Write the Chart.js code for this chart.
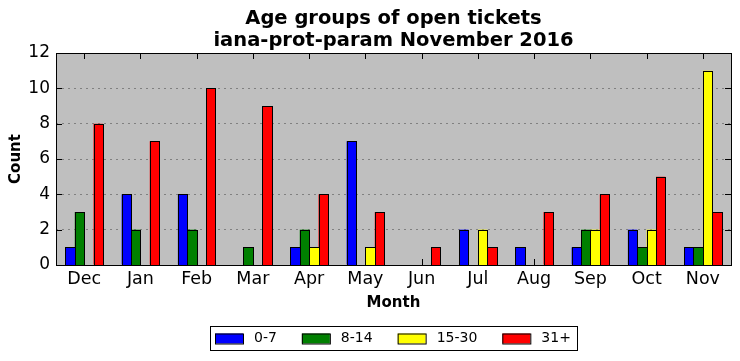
<!DOCTYPE html>
<html lang="en">
<head>
<meta charset="UTF-8">
<title>Age groups of open tickets</title>
<script src="https://cdn.jsdelivr.net/npm/chart.js"></script>
<style>
  body { margin: 0; background: #fff; }
  canvas { display: block; }
</style>
</head>
<body>
<canvas id="ageChart" width="740" height="361"></canvas>
<script>
const months = ['Dec', 'Jan', 'Feb', 'Mar', 'Apr', 'May', 'Jun', 'Jul', 'Aug', 'Sep', 'Oct', 'Nov'];
const seriesNames = ['0-7', '8-14', '15-30', '31+'];
const age0to7   = [1, 4, 4, 0, 1, 7, 0, 2, 1, 1, 2, 1];
const age8to14  = [3, 2, 2, 1, 2, 0, 0, 0, 0, 2, 1, 1];
const age15to30 = [0, 0, 0, 0, 1, 1, 0, 2, 0, 2, 2, 11];
const age31plus = [8, 7, 10, 9, 4, 3, 1, 1, 3, 4, 5, 3];
const yTicks = [0, 2, 4, 6, 8, 10, 12];
const titleLines = ['Age groups of open tickets', 'iana-prot-param November 2016'];

const colors = ['#0000ff', '#008000', '#ffff00', '#ff0000'];
const FONT = 'DejaVu Sans';

// grey plot background
const plotBackground = {
    id: 'plotBackground',
    beforeDraw(chart) {
        const { ctx, chartArea: a } = chart;
        ctx.save();
        ctx.fillStyle = '#bfbfbf';
        ctx.fillRect(a.left, a.top, a.right - a.left, a.bottom - a.top);
        ctx.restore();
    }
};

// crisp black outlines, snapped to the pixel grid like matplotlib does
const barOutlines = {
    id: 'barOutlines',
    afterDatasetsDraw(chart) {
        const { ctx } = chart;
        ctx.save();
        ctx.strokeStyle = '#000';
        ctx.lineWidth = 1;
        chart.data.datasets.forEach((d, di) => {
            chart.getDatasetMeta(di).data.forEach(bar => {
                const { x, y, base, width } = bar.getProps(['x', 'y', 'base', 'width'], true);
                const l = Math.round(x - width / 2), r = Math.round(x + width / 2);
                const t = Math.round(y), b = Math.round(base);
                ctx.fillStyle = d.backgroundColor;
                ctx.fillRect(l, t, r - l, b - t);
                ctx.strokeRect(l + 0.5, t + 0.5, r - l, b - t);
            });
        });
        ctx.restore();
    }
};

// title centred over the plot area (not the whole canvas)
const plotTitle = {
    id: 'plotTitle',
    afterDraw(chart) {
        const { ctx, chartArea: a } = chart;
        ctx.save();
        ctx.font = 'bold 19.5px "' + FONT + '"';
        ctx.fillStyle = '#000';
        ctx.textAlign = 'center';
        ctx.textBaseline = 'middle';
        const cx = (a.left + a.right) / 2;
        ctx.fillText(titleLines[0], cx, 19);
        ctx.fillText(titleLines[1], cx, 41);
        ctx.restore();
    }
};

// matplotlib style frame with inward ticks on all sides
const frameTicks = {
    id: 'frameTicks',
    afterDraw(chart) {
        const { ctx, chartArea: a } = chart;
        const xs = chart.scales.x, ys = chart.scales.y;
        const len = 6;
        ctx.save();
        ctx.strokeStyle = '#000';
        ctx.lineWidth = 1;
        ctx.beginPath();
        months.forEach((m, i) => {
            const px = Math.round(xs.getPixelForValue(i)) + 0.5;
            ctx.moveTo(px, a.top); ctx.lineTo(px, a.top + len);
            ctx.moveTo(px, a.bottom); ctx.lineTo(px, a.bottom - len);
        });
        yTicks.forEach(v => {
            const py = Math.round(ys.getPixelForValue(v)) + 0.5;
            ctx.moveTo(a.left, py); ctx.lineTo(a.left + len, py);
            ctx.moveTo(a.right, py); ctx.lineTo(a.right - len, py);
        });
        ctx.stroke();
        ctx.strokeRect(Math.round(a.left) + 0.5, Math.round(a.top) + 0.5,
            Math.round(a.right - a.left), Math.round(a.bottom - a.top));
        ctx.restore();
    }
};

// boxed legend under the axis title
const boxLegend = {
    id: 'boxLegend',
    afterDraw(chart) {
        const { ctx, chartArea: a } = chart;
        const sw = 28, sh = 10, gapText = 11, gapItem = 25, pad = 5;
        ctx.save();
        ctx.font = '14px "' + FONT + '"';
        let total = pad;
        const widths = chart.data.datasets.map(d => ctx.measureText(d.label).width);
        widths.forEach((w, i) => {
            total += sw + gapText + w + (i < widths.length - 1 ? gapItem : pad + 1);
        });
        const boxH = 24, top = 326;
        const left = Math.round((a.left + a.right) / 2 - total / 2);
        ctx.fillStyle = '#fff';
        ctx.fillRect(left, top, total, boxH);
        ctx.strokeStyle = '#000';
        ctx.lineWidth = 1;
        ctx.strokeRect(left + 0.5, top + 0.5, Math.round(total), boxH);
        let x = left + pad;
        const cy = top + boxH / 2 + 0.5;
        chart.data.datasets.forEach((d, i) => {
            ctx.fillStyle = d.backgroundColor;
            ctx.fillRect(x, cy - sh / 2, sw, sh);
            ctx.strokeRect(x + 0.5, cy - sh / 2 + 0.5, sw, sh);
            ctx.fillStyle = '#000';
            ctx.textBaseline = 'middle';
            ctx.fillText(d.label, x + sw + gapText, cy);
            x += sw + gapText + widths[i] + gapItem;
        });
        ctx.restore();
    }
};

const seriesData = [age0to7, age8to14, age15to30, age31plus];

new Chart(document.getElementById('ageChart'), {
    type: 'bar',
    data: {
        labels: months,
        datasets: seriesNames.map((name, i) => ({
            label: name,
            data: seriesData[i],
            backgroundColor: colors[i],
            borderWidth: 0,
            categoryPercentage: 0.667,
            barPercentage: 1.0
        }))
    },
    options: {
        responsive: false,
        animation: false,
        layout: { padding: { left: 0, right: 9, top: 53, bottom: 0 } },
        plugins: {
            legend: { display: false },
            tooltip: { enabled: false },
            title: { display: false }
        },
        scales: {
            x: {
                grid: { display: false, drawTicks: false },
                border: { display: false },
                ticks: { color: '#000', font: { family: FONT, size: 17.5 }, padding: 4, maxRotation: 0 },
                title: {
                    display: true,
                    text: 'Month',
                    color: '#000',
                    font: { family: FONT, size: 15, weight: 'bold', lineHeight: 1.2 },
                    padding: { top: 0, bottom: 49 }
                },
                afterFit(scale) { scale.height = 96; }
            },
            y: {
                min: 0,
                max: 12,
                grid: { color: '#808080', drawTicks: false, lineWidth: 1 },
                border: { display: false, dash: [2, 4] },
                ticks: { stepSize: 2, color: '#000', font: { family: FONT, size: 17 }, padding: 6 },
                title: {
                    display: true,
                    text: 'Count',
                    color: '#000',
                    font: { family: FONT, size: 15, weight: 'bold', lineHeight: 1.2 },
                    padding: { top: 7, bottom: 0 }
                },
                afterFit(scale) { scale.width = 56; }
            }
        }
    },
    plugins: [plotBackground, plotTitle, barOutlines, frameTicks, boxLegend]
});
</script>
</body>
</html>
